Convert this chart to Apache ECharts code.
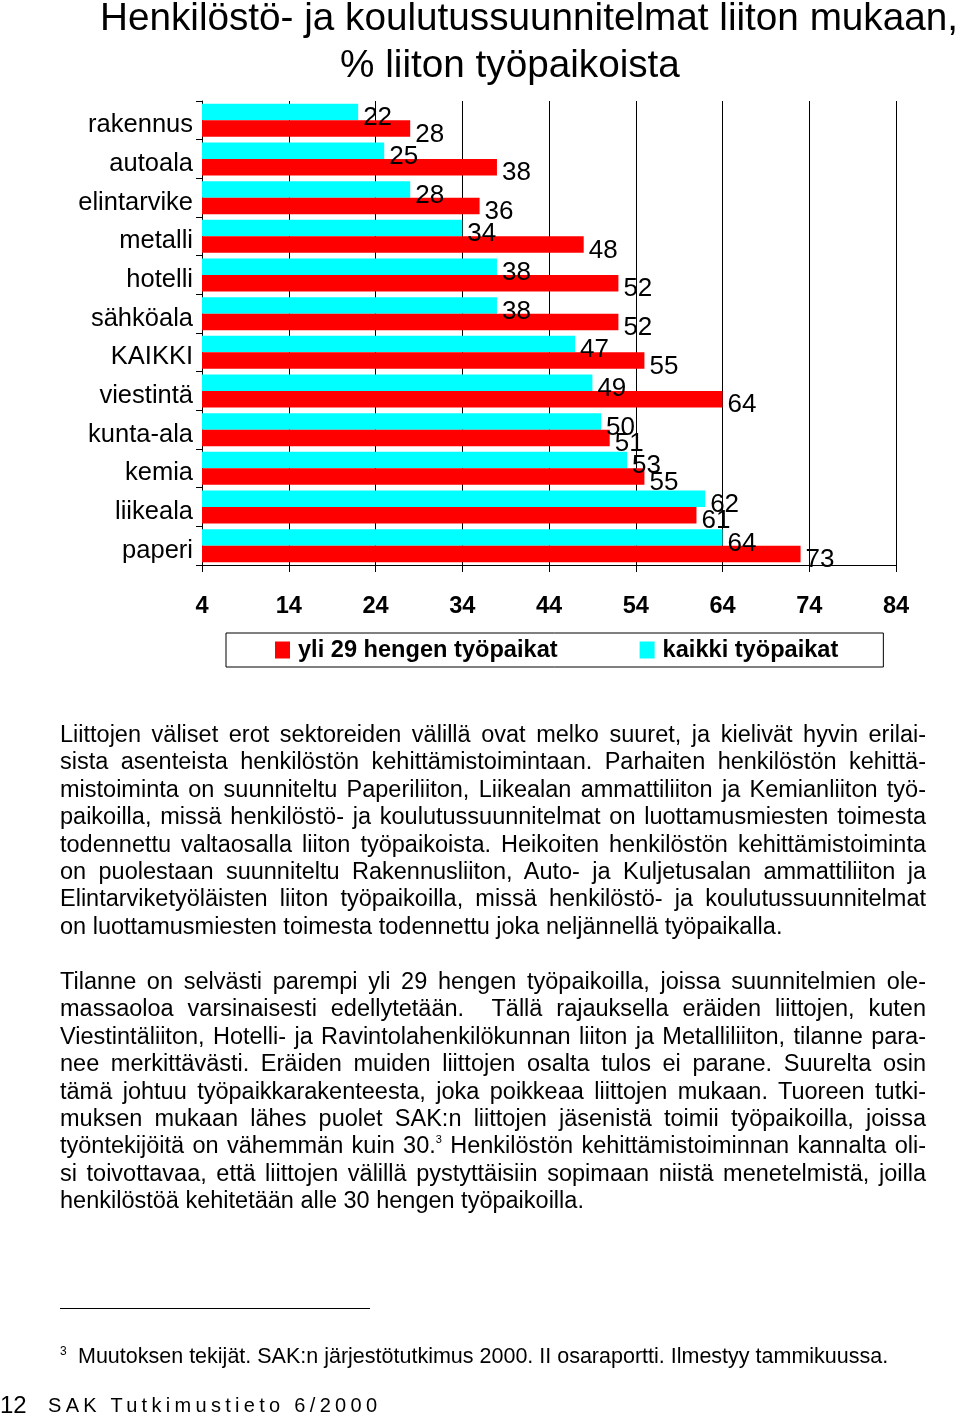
<!DOCTYPE html>
<html>
<head>
<meta charset="utf-8">
<script src="https://cdn.jsdelivr.net/npm/echarts@6/dist/echarts.min.js"></script>
<style>
  html, body { margin:0; padding:0; background:#fff; }
  #wrap { position:relative; width:960px; height:1415px; overflow:hidden; }
  #chart { position:absolute; left:0; top:0; width:960px; height:1415px; }
  .txt { position:absolute; font-family:"Liberation Sans", Arial, sans-serif; color:#000; }
  .para { left:60px; width:866px; font-size:23.5px; line-height:27.4px; }
  .para div { text-align:justify; text-align-last:justify; white-space:nowrap; }
  .para div.last { text-align:left; text-align-last:left; }
  sup { font-size:11px; vertical-align:10px; line-height:0; }
</style>
</head>
<body>
<div id="wrap">
<div id="chart"></div>
<div class="txt para" style="top:721px">
<div>Liittojen väliset erot sektoreiden välillä ovat melko suuret, ja kielivät hyvin erilai-</div>
<div>sista asenteista henkilöstön kehittämistoimintaan. Parhaiten henkilöstön kehittä-</div>
<div>mistoiminta on suunniteltu Paperiliiton, Liikealan ammattiliiton ja Kemianliiton työ-</div>
<div>paikoilla, missä henkilöstö- ja koulutussuunnitelmat on luottamusmiesten toimesta</div>
<div>todennettu valtaosalla liiton työpaikoista. Heikoiten henkilöstön kehittämistoiminta</div>
<div>on puolestaan suunniteltu Rakennusliiton, Auto- ja Kuljetusalan ammattiliiton ja</div>
<div>Elintarviketyöläisten liiton työpaikoilla, missä henkilöstö- ja koulutussuunnitelmat</div>
<div class="last">on luottamusmiesten toimesta todennettu joka neljännellä työpaikalla.</div>
</div>
<div class="txt para" style="top:968px">
<div>Tilanne on selvästi parempi yli 29 hengen työpaikoilla, joissa suunnitelmien ole-</div>
<div>massaoloa varsinaisesti edellytetään.&nbsp; Tällä rajauksella eräiden liittojen, kuten</div>
<div>Viestintäliiton, Hotelli- ja Ravintolahenkilökunnan liiton ja Metalliliiton, tilanne para-</div>
<div>nee merkittävästi. Eräiden muiden liittojen osalta tulos ei parane. Suurelta osin</div>
<div>tämä johtuu työpaikkarakenteesta, joka poikkeaa liittojen mukaan. Tuoreen tutki-</div>
<div>muksen mukaan lähes puolet SAK:n liittojen jäsenistä toimii työpaikoilla, joissa</div>
<div>työntekijöitä on vähemmän kuin 30.<sup>3</sup> Henkilöstön kehittämistoiminnan kannalta oli-</div>
<div>si toivottavaa, että liittojen välillä pystyttäisiin sopimaan niistä menetelmistä, joilla</div>
<div class="last">henkilöstöä kehitetään alle 30 hengen työpaikoilla.</div>
</div>
<div style="position:absolute;left:60px;top:1308px;width:310px;height:1px;background:#000"></div>
<div class="txt" style="left:60px;top:1344px;font-size:12px;">3</div>
<div class="txt" style="left:78px;top:1344px;font-size:21.5px;white-space:nowrap;">Muutoksen tekijät. SAK:n järjestötutkimus 2000. II osaraportti. Ilmestyy tammikuussa.</div>
<div class="txt" style="left:0px;top:1391px;font-size:24px;white-space:nowrap;">12</div>
<div class="txt" style="left:48px;top:1394px;font-size:20px;letter-spacing:4.3px;white-space:nowrap;">SAK Tutkimustieto 6/2000</div>
</div>
<script>
const categories = ['rakennus','autoala','elintarvike','metalli','hotelli','sähköala','KAIKKI','viestintä','kunta-ala','kemia','liikeala','paperi'];
const kaikkiTyopaikat = [22, 25, 28, 34, 38, 38, 47, 49, 50, 53, 62, 64];
const yli29Tyopaikat = [28, 38, 36, 48, 52, 52, 55, 64, 51, 55, 61, 73];
const seriesNames = ['kaikki työpaikat', 'yli 29 hengen työpaikat'];
const titleLines = ['Henkilöstö- ja koulutussuunnitelmat liiton mukaan,', '% liiton työpaikoista'];
const xMin = 4, xMax = 84, xStep = 10;

const FONT = '"Liberation Sans", Arial, sans-serif';
const chart = echarts.init(document.getElementById('chart'), null, {renderer:'canvas'});
const labelStyle = {show:true, position:'right', distance:5, offset:[0,6], color:'#000', fontSize:26, fontFamily:FONT};
chart.setOption({
  animation:false,
  backgroundColor:'#fff',
  graphic:[
    {type:'text', x:529, y:19, style:{text:titleLines[0], fontSize:38.7, fontFamily:FONT, fill:'#000', align:'center', verticalAlign:'middle'}},
    {type:'text', x:510, y:66, style:{text:titleLines[1], fontSize:38.7, fontFamily:FONT, fill:'#000', align:'center', verticalAlign:'middle'}}
  ],
  grid:{left:202, top:101, width:694, height:464, containLabel:false},
  legend:{
    data:[seriesNames[1], seriesNames[0]],
    left:226, top:633,
    itemWidth:15, itemHeight:17, itemGap:82,
    padding:[5,45,5,49],
    borderColor:'#000', borderWidth:1,
    icon:'rect',
    textStyle:{fontSize:23.6, fontWeight:'bold', color:'#000', fontFamily:FONT, padding:[0,0,0,3]}
  },
  xAxis:{
    type:'value', min:xMin, max:xMax, interval:xStep,
    axisLine:{show:true, lineStyle:{color:'#000', width:1}},
    axisTick:{show:true, length:7, lineStyle:{color:'#000'}},
    axisLabel:{fontSize:23.6, fontWeight:'bold', color:'#000', fontFamily:FONT, margin:29},
    splitLine:{show:true, lineStyle:{color:'#000', width:1}}
  },
  yAxis:{
    type:'category', data:categories, inverse:true,
    axisLine:{show:true, lineStyle:{color:'#000', width:1}},
    axisTick:{show:true, length:6, lineStyle:{color:'#000'}},
    axisLabel:{
      color:'#000', margin:9,
      formatter: function (v) { return '{c|' + v + '}'; },
      rich:{c:{fontSize:25.5, color:'#000', fontFamily:FONT, padding:[10,0,0,0]}}
    }
  },
  series:[
    {name:seriesNames[0], type:'bar', data:kaikkiTyopaikat, barWidth:16.5, barGap:'0%', itemStyle:{color:'#00FFFF'}, label:labelStyle},
    {name:seriesNames[1], type:'bar', data:yli29Tyopaikat, barWidth:16.5, barGap:'0%', itemStyle:{color:'#FF0000'}, label:labelStyle}
  ]
});
</script>
</body>
</html>
